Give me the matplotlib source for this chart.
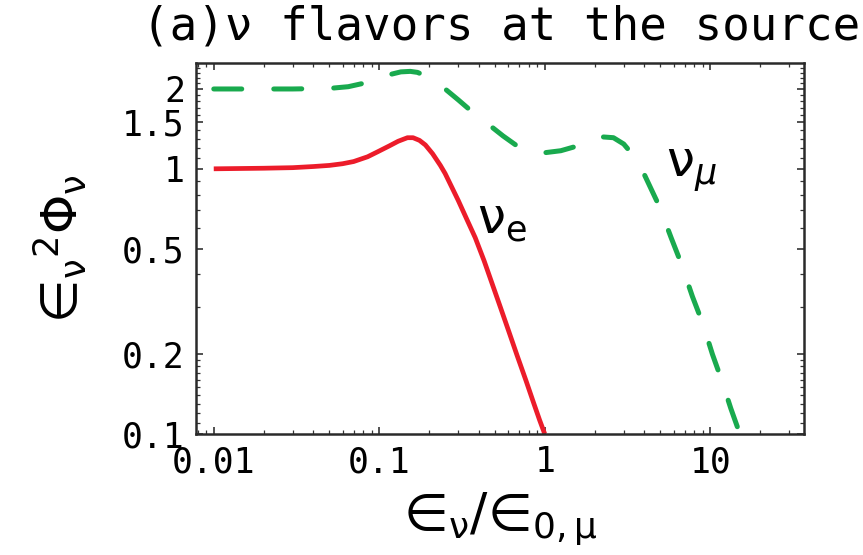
import numpy as np
import matplotlib
matplotlib.use("Agg")
import matplotlib.pyplot as plt
from matplotlib.ticker import FixedLocator, NullFormatter

plt.rcParams["mathtext.default"] = "regular"

# -----------------------------
# Data
# -----------------------------
nue_x = [0.01, 0.02, 0.03, 0.04, 0.05, 0.06, 0.07, 0.085, 0.098, 0.115,
         0.13, 0.148, 0.16, 0.175, 0.19, 0.21, 0.234, 0.25, 0.27, 0.3,
         0.34, 0.38, 0.43, 0.48, 0.54, 0.61, 0.68, 0.77, 0.86, 0.93, 1.0]
nue_y = [1.0, 1.005, 1.01, 1.02, 1.03, 1.045, 1.065, 1.11, 1.16, 1.22,
         1.27, 1.31, 1.31, 1.28, 1.23, 1.14, 1.03, 0.96, 0.87, 0.76,
         0.64, 0.55, 0.45, 0.37, 0.30, 0.241, 0.198, 0.159, 0.13, 0.113, 0.1]

numu_x = [0.01, 0.03, 0.05, 0.065, 0.08, 0.1, 0.117, 0.135, 0.154, 0.17,
          0.185, 0.21, 0.25, 0.3, 0.356, 0.41, 0.47, 0.56, 0.68, 0.82,
          1.0, 1.25, 1.58, 1.9, 2.2, 2.6, 3.0, 3.32, 3.7, 4.0, 4.93, 5.8,
          6.67, 7.8, 9.03, 10.3, 11.7, 13.3, 15.1]
numu_y = [2.0, 2.0, 2.01, 2.04, 2.1, 2.2, 2.27, 2.32, 2.33, 2.31,
          2.26, 2.16, 2.0, 1.82, 1.66, 1.54, 1.45, 1.33, 1.22, 1.17,
          1.15, 1.17, 1.22, 1.28, 1.32, 1.31, 1.24, 1.15, 1.04, 0.95, 0.72, 0.55,
          0.44, 0.33, 0.26, 0.2, 0.16, 0.125, 0.1]

x_ticks = [0.01, 0.1, 1, 10]
x_labels = ["0.01", "0.1", "1", "10"]
y_ticks = [0.1, 0.2, 0.5, 1, 1.5, 2]
y_labels = ["0.1", "0.2", "0.5", "1", "1.5", "2"]

red = "#ec1c2a"
green = "#19aa4e"
mono = "DejaVu Sans Mono"

# -----------------------------
# Figure
# -----------------------------
fig = plt.figure(figsize=(8.63, 5.55), dpi=100)
ax = fig.add_axes([0.227, 0.218, 0.705, 0.668])

ax.plot(nue_x, nue_y, color=red, lw=3.4, solid_capstyle="butt",
        solid_joinstyle="round")
ax.plot(numu_x, numu_y, color=green, lw=3.6, dashes=(5.6, 6.4),
        dash_capstyle="round", dash_joinstyle="round")

ax.set_xscale("log")
ax.set_yscale("log")
ax.set_xlim(0.0078, 37)
ax.set_ylim(0.1, 2.5)

ax.xaxis.set_major_locator(FixedLocator(x_ticks))
ax.set_xticklabels(x_labels)
minor_x = [m * d for d in [0.001, 0.01, 0.1, 1, 10] for m in range(2, 10)]
ax.xaxis.set_minor_locator(FixedLocator(minor_x))
ax.xaxis.set_minor_formatter(NullFormatter())

ax.yaxis.set_major_locator(FixedLocator(y_ticks))
ax.set_yticklabels(y_labels)
minor_y = list(np.arange(0.11, 0.2, 0.01)) + [0.3, 0.4, 0.6, 0.7, 0.8, 0.9] \
    + [1.1, 1.2, 1.3, 1.4, 1.6, 1.7, 1.8, 1.9, 2.1, 2.2, 2.3, 2.4]
ax.yaxis.set_minor_locator(FixedLocator(minor_y))
ax.yaxis.set_minor_formatter(NullFormatter())

ax.tick_params(which="both", direction="in", top=True, right=True,
               color="#333333")
ax.tick_params(which="major", length=5, width=1.2, labelsize=25, pad=8)
ax.tick_params(which="minor", length=3, width=0.9)
for lab in ax.get_xticklabels() + ax.get_yticklabels():
    lab.set_family(mono)

for sp in ax.spines.values():
    sp.set_linewidth(1.8)
    sp.set_color("#2a2a2a")

# curve labels
ax.text(0.39, 0.57, r"$\nu_{e}$", fontsize=36, ha="left", va="baseline")
ax.text(5.4, 0.93, r"$\nu_{\mathit{\mu}}$", fontsize=36,
        ha="left", va="baseline")

# axis labels
ax.set_xlabel("$\u2208_{\\nu}/\u2208_{0,\\mu}$", fontsize=37, labelpad=8)
ax.set_ylabel("$\u2208_{\\nu}{}^{2}\\Phi_{\\nu}$", fontsize=36, labelpad=24)

fig.text(142 / 863, 1 - 40 / 555, "(a)\u03bd flavors at the source",
         family=mono, fontsize=33, ha="left", va="baseline")

plt.savefig("out.png", dpi=100)
